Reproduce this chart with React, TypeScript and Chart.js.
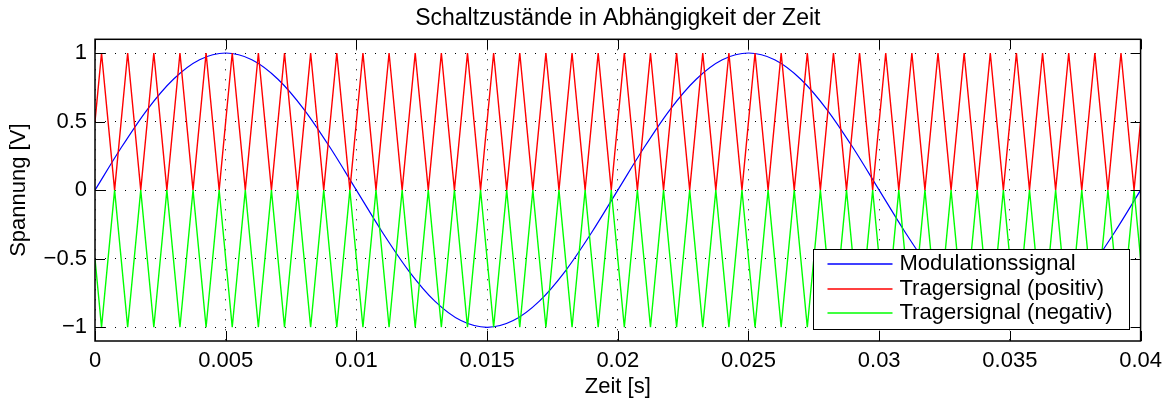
import React, { useEffect, useRef } from "react";
import { Chart, registerables } from "chart.js";

Chart.register(...registerables);

// Modulation signal (50 Hz sine), sampled every millisecond
const modTimeMs = [
  0, 1, 2, 3, 4, 5, 6, 7, 8, 9, 10, 11, 12, 13, 14, 15, 16, 17, 18, 19, 20,
  21, 22, 23, 24, 25, 26, 27, 28, 29, 30, 31, 32, 33, 34, 35, 36, 37, 38, 39, 40,
];
const modulationSignal = [
  0, 0.309, 0.588, 0.809, 0.951, 1, 0.951, 0.809, 0.588, 0.309,
  0, -0.309, -0.588, -0.809, -0.951, -1, -0.951, -0.809, -0.588, -0.309,
  0, 0.309, 0.588, 0.809, 0.951, 1, 0.951, 0.809, 0.588, 0.309,
  0, -0.309, -0.588, -0.809, -0.951, -1, -0.951, -0.809, -0.588, -0.309,
  0,
];

// Triangular carrier (1 kHz): corner times in milliseconds
const carrierTimeMs = [
  0,
  0.25, 0.75, 1.25, 1.75, 2.25, 2.75, 3.25, 3.75, 4.25, 4.75,
  5.25, 5.75, 6.25, 6.75, 7.25, 7.75, 8.25, 8.75, 9.25, 9.75,
  10.25, 10.75, 11.25, 11.75, 12.25, 12.75, 13.25, 13.75, 14.25, 14.75,
  15.25, 15.75, 16.25, 16.75, 17.25, 17.75, 18.25, 18.75, 19.25, 19.75,
  20.25, 20.75, 21.25, 21.75, 22.25, 22.75, 23.25, 23.75, 24.25, 24.75,
  25.25, 25.75, 26.25, 26.75, 27.25, 27.75, 28.25, 28.75, 29.25, 29.75,
  30.25, 30.75, 31.25, 31.75, 32.25, 32.75, 33.25, 33.75, 34.25, 34.75,
  35.25, 35.75, 36.25, 36.75, 37.25, 37.75, 38.25, 38.75, 39.25, 39.75,
  40,
];
const carrierPositive = [
  0.5,
  1, 0, 1, 0, 1, 0, 1, 0, 1, 0,
  1, 0, 1, 0, 1, 0, 1, 0, 1, 0,
  1, 0, 1, 0, 1, 0, 1, 0, 1, 0,
  1, 0, 1, 0, 1, 0, 1, 0, 1, 0,
  1, 0, 1, 0, 1, 0, 1, 0, 1, 0,
  1, 0, 1, 0, 1, 0, 1, 0, 1, 0,
  1, 0, 1, 0, 1, 0, 1, 0, 1, 0,
  1, 0, 1, 0, 1, 0, 1, 0, 1, 0,
  0.5,
];
const carrierNegative = [
  -0.5,
  -1, 0, -1, 0, -1, 0, -1, 0, -1, 0,
  -1, 0, -1, 0, -1, 0, -1, 0, -1, 0,
  -1, 0, -1, 0, -1, 0, -1, 0, -1, 0,
  -1, 0, -1, 0, -1, 0, -1, 0, -1, 0,
  -1, 0, -1, 0, -1, 0, -1, 0, -1, 0,
  -1, 0, -1, 0, -1, 0, -1, 0, -1, 0,
  -1, 0, -1, 0, -1, 0, -1, 0, -1, 0,
  -1, 0, -1, 0, -1, 0, -1, 0, -1, 0,
  -0.5,
];

const xTickValues = [0, 0.005, 0.01, 0.015, 0.02, 0.025, 0.03, 0.035, 0.04];
const xTickLabels = ["0", "0.005", "0.01", "0.015", "0.02", "0.025", "0.03", "0.035", "0.04"];
const yTickValues = [-1, -0.5, 0, 0.5, 1];
const yTickLabels = ["\u22121", "\u22120.5", "0", "0.5", "1"];

const chartTitle = "Schaltzustände in Abhängigkeit der Zeit";
const seriesLabels = ["Modulationssignal", "Tragersignal (positiv)", "Tragersignal (negativ)"];
const seriesColors = ["#0000ff", "#ff0000", "#00ff00"];

const FONT = "'Liberation Sans', Arial, Helvetica, sans-serif";

// Title centred over the axes, axes box, inward tick marks and the legend
const framePlugin = {
  id: "matlabFrame",
  afterDatasetsDraw(chart: any) {
    const { ctx, chartArea: a, scales } = chart;
    ctx.save();

    ctx.fillStyle = "#000";
    ctx.font = `23px ${FONT}`;
    ctx.textAlign = "center";
    ctx.textBaseline = "alphabetic";
    ctx.fillText(chartTitle, (a.left + a.right) / 2, 25);

    ctx.strokeStyle = "#000";
    ctx.lineWidth = 1;
    const tick = 10;
    ctx.beginPath();
    for (const v of xTickValues) {
      const px = Math.round(scales.x.getPixelForValue(v)) + 0.5;
      ctx.moveTo(px, a.bottom);
      ctx.lineTo(px, a.bottom - tick);
      ctx.moveTo(px, a.top);
      ctx.lineTo(px, a.top + tick);
    }
    for (const v of yTickValues) {
      const py = Math.round(scales.y.getPixelForValue(v)) + 0.5;
      ctx.moveTo(a.left, py);
      ctx.lineTo(a.left + tick, py);
      ctx.moveTo(a.right, py);
      ctx.lineTo(a.right - tick, py);
    }
    ctx.stroke();
    ctx.lineWidth = 1.5;
    ctx.strokeRect(a.left, a.top, a.right - a.left, a.bottom - a.top);

    // legend
    const w = 316;
    const h = 80;
    const lx = Math.round(a.right - 12 - w) + 0.5;
    const ly = Math.round(a.bottom - 12 - h) + 0.5;
    ctx.fillStyle = "#fff";
    ctx.fillRect(lx, ly, w, h);
    ctx.lineWidth = 1;
    ctx.strokeStyle = "#000";
    ctx.strokeRect(lx, ly, w, h);
    ctx.font = `22px ${FONT}`;
    ctx.textBaseline = "middle";
    ctx.textAlign = "left";
    const rows = [14.5, 39, 63.5];
    seriesLabels.forEach((label, i) => {
      const ry = Math.round(ly + rows[i]);
      ctx.beginPath();
      ctx.strokeStyle = seriesColors[i];
      ctx.lineWidth = 1.5;
      ctx.moveTo(lx + 14, ry);
      ctx.lineTo(lx + 79, ry);
      ctx.stroke();
      ctx.fillStyle = "#000";
      ctx.fillText(label, lx + 86, ry);
    });
    ctx.restore();
  },
};

export default function App() {
  const canvasRef = useRef<HTMLCanvasElement | null>(null);

  useEffect(() => {
    const canvas = canvasRef.current;
    if (!canvas) return;
    Chart.defaults.font.family = FONT;
    Chart.defaults.color = "#000";

    const chart = new Chart(canvas, {
      type: "line",
      data: {
        datasets: [
          {
            label: seriesLabels[0],
            data: modTimeMs.map((t, i) => ({ x: t / 1000, y: modulationSignal[i] })),
            borderColor: seriesColors[0],
            borderWidth: 1.2,
            pointRadius: 0,
            cubicInterpolationMode: "monotone",
            order: 2,
          },
          {
            label: seriesLabels[1],
            data: carrierTimeMs.map((t, i) => ({ x: t / 1000, y: carrierPositive[i] })),
            borderColor: seriesColors[1],
            borderWidth: 1.4,
            pointRadius: 0,
            tension: 0,
            order: 1,
          },
          {
            label: seriesLabels[2],
            data: carrierTimeMs.map((t, i) => ({ x: t / 1000, y: carrierNegative[i] })),
            borderColor: seriesColors[2],
            borderWidth: 1.4,
            pointRadius: 0,
            tension: 0,
            order: 0,
          },
        ],
      },
      options: {
        animation: false,
        responsive: false,
        devicePixelRatio: 1,
        events: [],
        layout: { padding: { left: 0, right: 28, top: 39.3, bottom: 0 } },
        plugins: {
          legend: { display: false },
          tooltip: { enabled: false },
          title: { display: false },
        },
        scales: {
          x: {
            type: "linear",
            min: 0,
            max: 0.04,
            afterBuildTicks: (scale: any) => {
              scale.ticks = xTickValues.map((v) => ({ value: v }));
            },
            afterFit: (scale: any) => {
              scale.height = 62;
            },
            ticks: {
              autoSkip: false,
              maxRotation: 0,
              padding: 7,
              color: "#000",
              font: { size: 22, family: FONT },
              callback: (value: any) => xTickLabels[xTickValues.indexOf(Number(value))],
            },
            grid: { color: "#000", lineWidth: 1, drawTicks: false },
            border: { display: false, dash: [1, 9] },
            title: {
              display: true,
              text: "Zeit [s]",
              color: "#000",
              font: { size: 22, family: FONT },
              padding: { top: 0, bottom: 3 },
            },
          },
          y: {
            type: "linear",
            min: -1.1,
            max: 1.1,
            afterBuildTicks: (scale: any) => {
              scale.ticks = yTickValues.map((v) => ({ value: v }));
            },
            afterFit: (scale: any) => {
              scale.width = 95;
            },
            ticks: {
              autoSkip: false,
              padding: 8,
              color: "#000",
              font: { size: 22, family: FONT },
              callback: (value: any) => yTickLabels[yTickValues.indexOf(Number(value))],
            },
            grid: { color: "#000", lineWidth: 1, drawTicks: false },
            border: { display: false, dash: [1, 9] },
            title: {
              display: true,
              text: "Spannung [V]",
              color: "#000",
              font: { size: 22, family: FONT },
              padding: { top: 6, bottom: 0 },
            },
          },
        },
      },
      plugins: [framePlugin],
    } as any);

    return () => chart.destroy();
  }, []);

  return (
    <div
      style={{
        position: "fixed",
        left: 0,
        top: 0,
        width: 1169,
        height: 403,
        background: "#fff",
      }}
    >
      <canvas ref={canvasRef} width={1169} height={403} style={{ display: "block" }} />
    </div>
  );
}
